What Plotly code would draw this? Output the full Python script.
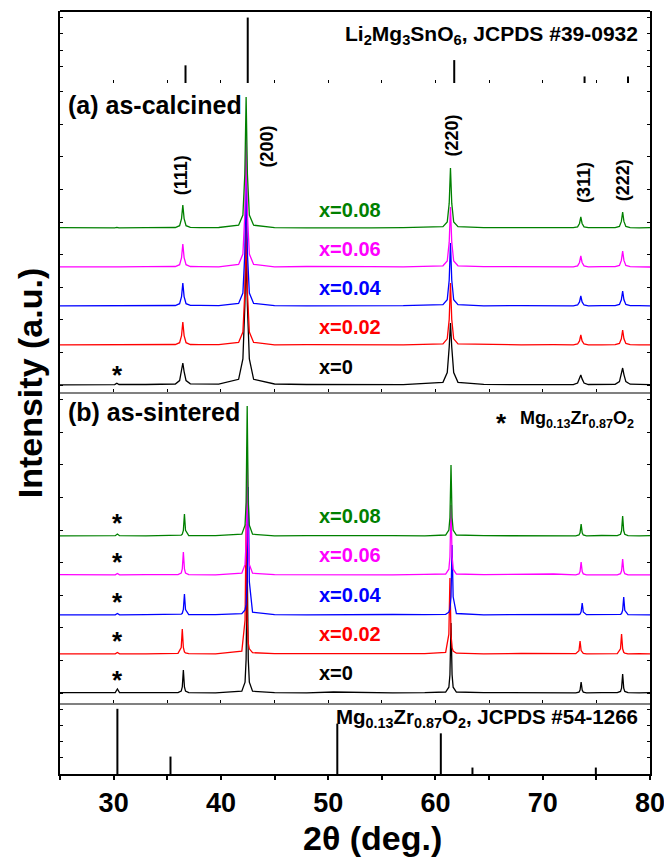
import plotly.graph_objects as go
from plotly.subplots import make_subplots

# ---------------- data ----------------
SAMPLES = ["x=0", "x=0.02", "x=0.04", "x=0.06", "x=0.08"]
COLORS = ["#000000", "#ff0000", "#0000ff", "#ff00ff", "#008000"]

# 2theta grid, panel (a) as-calcined
TT_CAL = [25, 27.5, 30.1, 30.3, 30.5, 33,
          35.75, 36.15, 36.33, 36.45, 36.57, 36.75, 37.15,
          38.0, 39.8,
          41.65, 42.05, 42.23, 42.35, 42.47, 42.65, 43.05,
          45, 48, 51, 54, 57,
          60.7, 61.1, 61.28, 61.4, 61.52, 61.7, 62.1,
          64.5, 68, 71,
          72.85, 73.25, 73.43, 73.55, 73.67, 73.85, 74.25,
          75.5,
          76.75, 77.15, 77.33, 77.45, 77.57, 77.75, 78.15,
          79, 80]

CAL_0 = [0.2, 0.3, 0.4, 1.8, 0.5, 0.5,
         1.0, 4.4, 13.4, 22, 13.4, 4.4, 1.2,
         1.3, 0.8,
         5.7, 26, 79, 130, 79, 26, 5.7,
         1.0, 0.5, 0.3, 0.3, 0.4,
         2.7, 12.4, 37.8, 62, 37.8, 12.4, 2.7,
         0.6, 0.3, 0.3,
         0.4, 2.0, 6.1, 10, 6.1, 2.0, 0.5,
         0.5,
         0.7, 3.4, 10.4, 17, 10.4, 3.4, 0.8,
         0.4, 0.3]
CAL_002 = [0.1, 0.2, 0.0, 0.5, 0.1, 0.3,
           0.5, 2.3, 9.4, 23, 9.4, 2.3, 0.5,
           0.3, 0.4,
           2.6, 13, 53, 130, 53, 13, 2.6,
           0.2, 0.4, 0.1, 0.3, 0.2,
           1.2, 6.2, 25.4, 62, 25.4, 6.2, 1.2,
           0.5, 0.2, 0.4,
           0.2, 1.0, 4.1, 10, 4.1, 1.0, 0.2,
           0.2,
           0.3, 1.5, 6.2, 15, 6.2, 1.5, 0.3,
           0.2, 0.2]
CAL_004 = [0.2, 0.3, 0.1, 0.6, 0.2, 0.1,
           0.5, 2.3, 9.4, 23, 9.4, 2.3, 0.6,
           0.6, 0.3,
           2.6, 13, 53, 130, 53, 13, 2.6,
           0.3, 0.2, 0.4, 0.1, 0.3,
           1.3, 6.3, 25.8, 63, 25.8, 6.3, 1.3,
           0.2, 0.4, 0.2,
           0.2, 1.0, 4.1, 10, 4.1, 1.0, 0.2,
           0.3,
           0.3, 1.5, 6.2, 15, 6.2, 1.5, 0.3,
           0.4, 0.1]
CAL_006 = [0.1, 0.4, 0.0, 0.5, 0.2, 0.3,
           0.5, 2.3, 9.4, 23, 9.4, 2.3, 0.5,
           0.4, 0.2,
           2.6, 13, 53, 130, 53, 13, 2.6,
           0.2, 0.5, 0.1, 0.4, 0.2,
           1.2, 6, 24.6, 60, 24.6, 6, 1.2,
           0.4, 0.1, 0.3,
           0.2, 1.1, 4.5, 11, 4.5, 1.1, 0.2,
           0.3,
           0.3, 1.6, 6.6, 16, 6.6, 1.6, 0.3,
           0.1, 0.0]
CAL_008 = [0.3, 0.0, 0.2, 0.6, 0.1, 0.4,
           0.5, 2.3, 9.4, 23, 9.4, 2.3, 0.6,
           0.3, 0.5,
           2.8, 13, 54, 131, 54, 13, 2.8,
           0.4, 0.1, 0.5, 0.2, 0.3,
           1.3, 6, 24.6, 60, 24.6, 6, 1.3,
           0.3, 0.5, 0.1,
           0.3, 1.1, 4.5, 11, 4.5, 1.1, 0.3,
           0.4,
           0.4, 1.6, 6.6, 16, 6.6, 1.6, 0.4,
           0.2, 0.3]

# 2theta grid, panel (b) as-sintered
TT_SIN = [25, 27.5, 30.15, 30.35, 30.55, 33,
          36.0, 36.3, 36.4, 36.5, 36.6, 36.7, 37.0,
          39.5,
          41.95, 42.25, 42.35, 42.45, 42.55, 42.65, 42.95,
          45, 48, 50.5, 53, 56, 59,
          60.95, 61.25, 61.35, 61.45, 61.55, 61.65, 61.95,
          64.5, 68, 71,
          73.08, 73.38, 73.48, 73.58, 73.68, 73.78, 74.08,
          75.5,
          76.95, 77.25, 77.35, 77.45, 77.55, 77.65, 77.95,
          79, 80]

SIN_0 = [0.3, 0.2, 0.5, 4.0, 0.5, 0.3,
         0.3, 1.9, 6.0, 23, 6.0, 1.9, 0.3,
         0.2,
         1.8, 10.8, 33.8, 130, 33.8, 10.8, 1.8,
         0.3, 0.2, 1.0, 0.3, 0.2, 0.3,
         1.0, 5.8, 18.2, 70, 18.2, 5.8, 1.0,
         0.4, 0.2, 0.3,
         0.2, 0.9, 2.9, 11, 2.9, 0.9, 0.2,
         0.3,
         0.3, 1.6, 4.9, 19, 4.9, 1.6, 0.3,
         0.2, 0.4]
SIN_002 = [0.1, 0.3, 0.2, 1.5, 0.2, 0.2,
           0.6, 6.5, 25, 6.5, 2.1, 1.0, 0.3,
           0.2,
           2.9, 33.8, 130, 33.8, 10.8, 5.2, 1.3,
           0.3, 0.4, 0.2, 0.3, 0.1, 0.4,
           1.7, 19.8, 76, 19.8, 6.3, 3.0, 0.8,
           0.2, 0.5, 0.3,
           0.3, 3.4, 13, 3.4, 1.1, 0.5, 0.1,
           0.2,
           0.4, 5.2, 20, 5.2, 1.7, 0.8, 0.2,
           0.3, 0.1]
SIN_004 = [0.2, 0.3, 0.2, 1.5, 0.1, 0.3,
           0.2, 0.8, 1.7, 5.5, 21, 5.5, 0.5,
           0.4,
           1.3, 5.1, 10.6, 33.3, 128, 33.3, 2.8,
           0.3, 0.1, 0.4, 0.2, 0.5, 0.3,
           0.7, 2.8, 5.8, 18.2, 70, 18.2, 1.5,
           0.2, 0.3, 0.1,
           0.1, 0.5, 1.0, 3.1, 12, 3.1, 0.3,
           0.4,
           0.2, 0.7, 1.5, 4.7, 18, 4.7, 0.4,
           0.3, 0.2]
SIN_006 = [0.3, 0.1, 0.2, 1.5, 0.2, 0.4,
           0.3, 1.9, 6.0, 23, 6.0, 1.9, 0.3,
           0.2,
           1.8, 10.6, 33.3, 128, 33.3, 10.6, 1.8,
           0.4, 0.2, 0.3, 0.5, 0.2, 0.6,
           1.0, 5.8, 18.2, 70, 18.2, 5.8, 1.0,
           0.3, 0.4, 1.0,
           0.2, 1.1, 3.4, 13, 3.4, 1.1, 0.2,
           0.3,
           0.2, 1.3, 4.2, 16, 4.2, 1.3, 0.2,
           0.1, 0.2]
SIN_008 = [0.2, 0.4, 0.3, 2.0, 0.3, 0.1,
           0.2, 0.9, 1.8, 5.7, 22, 5.7, 0.5,
           0.3,
           1.8, 10.8, 33.8, 130, 33.8, 10.8, 1.8,
           0.2, 0.4, 0.6, 0.1, 0.3, 0.2,
           1.0, 5.9, 18.5, 71, 18.5, 5.9, 1.0,
           0.3, 0.2, 0.4,
           0.2, 1.0, 3.1, 12, 3.1, 1.0, 0.2,
           0.5,
           0.3, 1.7, 5.2, 20, 5.2, 1.7, 0.3,
           0.2, 0.3]

# reference patterns
LMSO_POS = [36.7, 42.5, 61.75, 73.9, 77.95]
LMSO_INT = [27, 100, 35, 10, 10]
MZO_POS = [30.35, 35.3, 50.85, 60.5, 63.45, 74.95]
MZO_INT = [101, 27, 78, 63, 10, 10]

HKL = ["(111)", "(200)", "(220)", "(311)", "(222)"]

# ---------------- layout constants ----------------
CAL_OFFSET = [7, 47, 86, 125, 164]
SIN_OFFSET = [10, 49, 88, 128, 167]
FONT = "Liberation Sans, Arial, Helvetica, sans-serif"

fig = make_subplots(rows=4, cols=1, shared_xaxes=True, vertical_spacing=0,
                    row_heights=[72, 309, 311, 71])


def sticks(pos, inten):
    xs, ys = [], []
    for p, h in zip(pos, inten):
        xs += [p, p, None]
        ys += [0, h, None]
    return xs, ys


sx, sy = sticks(LMSO_POS, LMSO_INT)
fig.add_trace(go.Scatter(x=sx, y=sy, mode="lines", line=dict(color="black", width=2),
                         showlegend=False, hoverinfo="skip"), row=1, col=1)
sx, sy = sticks(MZO_POS, MZO_INT)
fig.add_trace(go.Scatter(x=sx, y=sy, mode="lines", line=dict(color="black", width=2),
                         showlegend=False, hoverinfo="skip"), row=4, col=1)

CAL = [CAL_0, CAL_002, CAL_004, CAL_006, CAL_008]
SIN = [SIN_0, SIN_002, SIN_004, SIN_006, SIN_008]

for i in range(5):
    fig.add_trace(go.Scatter(x=TT_CAL, y=[v + CAL_OFFSET[i] for v in CAL[i]], mode="lines",
                             line=dict(color=COLORS[i], width=1.3), name=SAMPLES[i],
                             showlegend=False), row=2, col=1)
for i in range(5):
    fig.add_trace(go.Scatter(x=TT_SIN, y=[v + SIN_OFFSET[i] for v in SIN[i]], mode="lines",
                             line=dict(color=COLORS[i], width=1.3), name=SAMPLES[i],
                             showlegend=False), row=3, col=1)

ann = []


def A(text, x, y, xref, yref, size, color="black", xanchor="center", yanchor="middle", angle=0):
    ann.append(dict(text=text, x=x, y=y, xref=xref, yref=yref, showarrow=False,
                    font=dict(family=FONT, size=size, color=color),
                    xanchor=xanchor, yanchor=yanchor, textangle=angle))


# sample labels
for i in range(5):
    A("<b>%s</b>" % SAMPLES[i], 48.96, CAL_OFFSET[i] + 18, "x2", "y2", 20, COLORS[i], "left")
    A("<b>%s</b>" % SAMPLES[i], 48.96, SIN_OFFSET[i] + 20, "x3", "y3", 20, COLORS[i], "left")
    A("<b>*</b>", 30.4, SIN_OFFSET[i] + 13, "x3", "y3", 26)
A("<b>*</b>", 30.4, CAL_OFFSET[0] + 10, "x2", "y2", 26)

# hkl labels
HKL_X = [36.3, 44.25, 61.5, 73.85, 77.5]
HKL_Y = [217, 245, 256, 209, 212]
for t, hx, hy in zip(HKL, HKL_X, HKL_Y):
    A("<b>%s</b>" % t, hx, hy, "x2", "y2", 18, angle=-90)

A("<b>(a) as-calcined</b>", 25.6, 287, "x2", "y2", 25, xanchor="left")
A("<b>(b) as-sintered</b>", 25.6, 291, "x3", "y3", 25, xanchor="left")
A("<b>*</b>", 66.2, 280, "x3", "y3", 26)
A("<b>Mg<sub>0.13</sub>Zr<sub>0.87</sub>O<sub>2</sub></b>", 67.7, 284, "x3", "y3", 18, xanchor="left")
A("<b>Li<sub>2</sub>Mg<sub>3</sub>SnO<sub>6</sub>, JCPDS #39-0932</b>", 79.1, 74, "x", "y", 21,
  xanchor="right")
A("<b>Mg<sub>0.13</sub>Zr<sub>0.87</sub>O<sub>2</sub>, JCPDS #54-1266</b>", 79.1, 87, "x4", "y4", 20.5,
  xanchor="right")

# axis titles
A("<b>Intensity (a.u.)</b>", -0.051, 0.512, "paper", "paper", 34, angle=-90)
A("<b>2θ (deg.)</b>", 0.5305, -0.084, "paper", "paper", 34)

fig.update_layout(
    width=664, height=857, plot_bgcolor="white", paper_bgcolor="white",
    margin=dict(l=60, r=14, t=11, b=83, autoexpand=False), annotations=ann, showlegend=False,
    font=dict(family=FONT, color="black"),
    shapes=[dict(type="line", xref="paper", yref="paper", x0=0, x1=1, y0=1, y1=1,
                 line=dict(color="black", width=2))],
)

for r in range(1, 5):
    fig.update_xaxes(range=[25, 80], showgrid=False, zeroline=False, showline=True,
                     linecolor="#808080", linewidth=1.5, ticks="inside", ticklen=3,
                     tickcolor="black", tick0=25, dtick=5, showticklabels=False,
                     automargin=False, row=r, col=1)
fig.update_xaxes(linecolor="black", linewidth=2, ticks="outside", ticklen=4, tickwidth=1.5,
                 tick0=30, dtick=10, showticklabels=True, tickprefix="<b>", ticksuffix="</b>",
                 ticklabeloverflow="allow",
                 minor=dict(ticks="outside", ticklen=4, tickwidth=1.5, tick0=25, dtick=5,
                            tickcolor="black"),
                 tickfont=dict(family=FONT, size=27, color="black"), row=4, col=1)

yranges = [[0, 110], [0, 309], [0, 311], [0, 110]]
ytick0 = [0, 7, 10, 0]
ydtick = [25, 32.6, 32.6, 25]
for r in range(1, 5):
    fig.update_yaxes(range=yranges[r - 1], showgrid=False, zeroline=False, showline=True,
                     linecolor="black", linewidth=2, mirror="ticks", ticks="inside", ticklen=3,
                     tickcolor="black", tick0=ytick0[r - 1], dtick=ydtick[r - 1],
                     showticklabels=False, automargin=False, row=r, col=1)

fig.write_html("out.html", config={"displayModeBar": False},
               post_script="document.body.style.margin='0';document.body.style.overflow='hidden';")
